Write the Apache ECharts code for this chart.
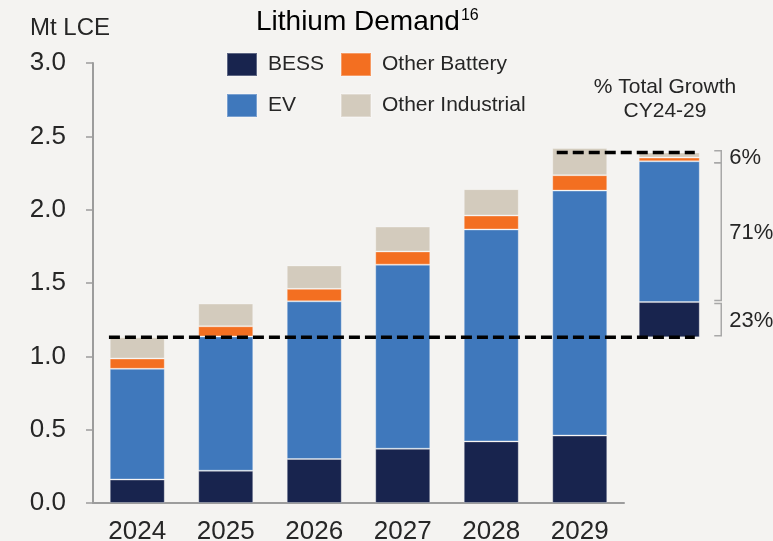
<!DOCTYPE html>
<html>
<head>
<meta charset="utf-8">
<script src="https://cdn.jsdelivr.net/npm/echarts@6/dist/echarts.min.js"></script>
<style>
  html, body { margin: 0; padding: 0; background: #f4f3f1; }
  #chart { width: 773px; height: 541px; }
</style>
</head>
<body>
<div id="chart"></div>
<script>
// Lithium demand, Mt LCE
const years = ['2024', '2025', '2026', '2027', '2028', '2029'];
const bess = [0.16, 0.22, 0.30, 0.37, 0.42, 0.46];
const ev = [0.755, 0.915, 1.075, 1.255, 1.445, 1.67];
const otherBattery = [0.07, 0.07, 0.085, 0.09, 0.095, 0.105];
const otherIndustrial = [0.145, 0.155, 0.16, 0.17, 0.18, 0.185];

// growth bar CY24-29 (BESS, EV, Other Battery, Other Industrial)
const growth = [0.24, 0.96, 0.025, 0.035];
const growthPct = ['23%', '71%', '6%'];
const growthGroups = [[0], [1], [2, 3]];

const colors = {
  BESS: '#18244e',
  EV: '#3f78bc',
  'Other Battery': '#f36f21',
  'Other Industrial': '#d3cbbd'
};

const totals = years.map((y, i) => bess[i] + ev[i] + otherBattery[i] + otherIndustrial[i]);
const growthBase = totals[0];
const growthTop = growthBase + growth.reduce((a, b) => a + b, 0);

// bracket ranges from the growth segments
const brackets = growthGroups.map(g => {
  let lo = growthBase;
  for (let k = 0; k < g[0]; k++) lo += growth[k];
  let hi = lo;
  g.forEach(k => { hi += growth[k]; });
  return [0, lo, hi];
});

const font = 'Liberation Sans';
const textColor = '#262626';
const chart = echarts.init(document.getElementById('chart'));

const barStyle = name => ({
  color: colors[name],
  borderColor: 'rgba(255,255,255,0.3)',
  borderWidth: 1
});

const mainNames = ['BESS', 'EV', 'Other Battery', 'Other Industrial'];
const mainData = [bess, ev, otherBattery, otherIndustrial];

const series = [];
mainNames.forEach((n, i) => {
  series.push({
    name: n,
    type: 'bar',
    stack: 'demand',
    barWidth: 55,
    data: mainData[i],
    itemStyle: barStyle(n),
    silent: true
  });
});

series.push({
  name: 'base',
  type: 'bar',
  stack: 'growth',
  xAxisIndex: 1,
  yAxisIndex: 1,
  barWidth: 61,
  data: [growthBase],
  itemStyle: { color: 'transparent' },
  silent: true
});
mainNames.forEach((n, i) => {
  series.push({
    name: n,
    type: 'bar',
    stack: 'growth',
    xAxisIndex: 1,
    yAxisIndex: 1,
    barWidth: 61,
    data: [growth[i]],
    itemStyle: barStyle(n),
    silent: true
  });
});

// dashed reference lines (x in category band units of the overlay grid)
const dashStyle = { color: '#000', width: 3.5, type: [11, 5] };
series.push({
  type: 'line',
  xAxisIndex: 2,
  yAxisIndex: 2,
  symbol: 'none',
  silent: true,
  lineStyle: dashStyle,
  data: [[0.18, totals[0]], [6.8, totals[0]]],
  z: 5
});
series.push({
  type: 'line',
  xAxisIndex: 2,
  yAxisIndex: 2,
  symbol: 'none',
  silent: true,
  lineStyle: dashStyle,
  data: [[5.24, growthTop], [6.8, growthTop]],
  z: 5
});

// brackets with growth shares
series.push({
  type: 'custom',
  xAxisIndex: 1,
  yAxisIndex: 1,
  clip: false,
  silent: true,
  data: brackets,
  renderItem: function (params, api) {
    const top = api.coord([api.value(0), api.value(2)]);
    const bot = api.coord([api.value(0), api.value(1)]);
    const x = top[0] + 52;
    let y0 = top[1] + 1.5, y1 = bot[1] - 1.5;
    const mid = (y0 + y1) / 2;
    if (y1 - y0 < 12) { y0 = mid - 6; y1 = mid + 6; }
    return {
      type: 'group',
      children: [
        {
          type: 'polyline',
          shape: { points: [[x - 7, y0], [x, y0], [x, y1], [x - 7, y1]] },
          style: { stroke: '#a8a8a8', lineWidth: 1.5, fill: null }
        },
        {
          type: 'text',
          style: {
            text: growthPct[params.dataIndex],
            x: x + 8,
            y: mid + 1,
            verticalAlign: 'middle',
            fill: textColor,
            font: '22px ' + font
          }
        }
      ]
    };
  },
  z: 6
});

const legendBase = {
  orient: 'vertical',
  top: 52,
  padding: 0,
  itemWidth: 30,
  itemHeight: 23,
  itemGap: 16,
  icon: 'rect',
  selectedMode: false,
  textStyle: { fontFamily: font, fontSize: 21, color: textColor, padding: [0, 0, 0, 6] }
};

const gridBase = { top: 63, bottom: 38, outerBoundsMode: 'none', containLabel: false };

chart.setOption({
  backgroundColor: '#f4f3f1',
  animation: false,
  textStyle: { fontFamily: font },
  title: [
    {
      text: 'Lithium Demand{s|16}',
      left: 256,
      top: 8,
      padding: 0,
      textStyle: {
        fontFamily: font,
        fontSize: 28,
        fontWeight: 'normal',
        color: '#000',
        rich: {
          s: { fontFamily: font, fontSize: 16, color: '#000', verticalAlign: 'top', padding: [0, 0, 8, 1] }
        }
      }
    },
    {
      text: 'Mt LCE',
      left: 30,
      top: 16,
      padding: 0,
      textStyle: { fontFamily: font, fontSize: 24, fontWeight: 'normal', color: textColor }
    },
    {
      text: '% Total Growth\nCY24-29',
      left: 665,
      top: 75,
      padding: 0,
      textAlign: 'center',
      textStyle: { fontFamily: font, fontSize: 21, fontWeight: 'normal', color: textColor, lineHeight: 24 }
    }
  ],
  legend: [
    Object.assign({}, legendBase, { data: ['BESS', 'EV'], left: 226 }),
    Object.assign({}, legendBase, { data: ['Other Battery', 'Other Industrial'], left: 340 })
  ],
  grid: [
    Object.assign({ left: 93, width: 531 }, gridBase),
    Object.assign({ left: 625, width: 88.5 }, gridBase),
    Object.assign({ left: 93, width: 619.5 }, gridBase)
  ],
  xAxis: [
    {
      type: 'category',
      gridIndex: 0,
      data: years,
      axisLine: { lineStyle: { color: '#9c9c9c', width: 2 } },
      axisTick: { show: false },
      axisLabel: { fontFamily: font, fontSize: 26, color: textColor, margin: 16 }
    },
    {
      type: 'category',
      gridIndex: 1,
      data: [''],
      show: false
    },
    {
      type: 'value',
      gridIndex: 2,
      min: 0,
      max: 7,
      show: false
    }
  ],
  yAxis: [
    {
      type: 'value',
      gridIndex: 0,
      min: 0,
      max: 3,
      interval: 0.5,
      axisLine: { show: true, lineStyle: { color: '#9c9c9c', width: 2 } },
      axisTick: { show: true, length: 7, lineStyle: { color: '#9c9c9c', width: 1.5 } },
      splitLine: { show: false },
      axisLabel: {
        fontFamily: font,
        fontSize: 26,
        color: textColor,
        margin: 27,
        padding: [7, 0, 0, 0],
        formatter: v => v.toFixed(1)
      }
    },
    { type: 'value', gridIndex: 1, min: 0, max: 3, show: false },
    { type: 'value', gridIndex: 2, min: 0, max: 3, show: false }
  ],
  series: series
});
</script>
</body>
</html>
